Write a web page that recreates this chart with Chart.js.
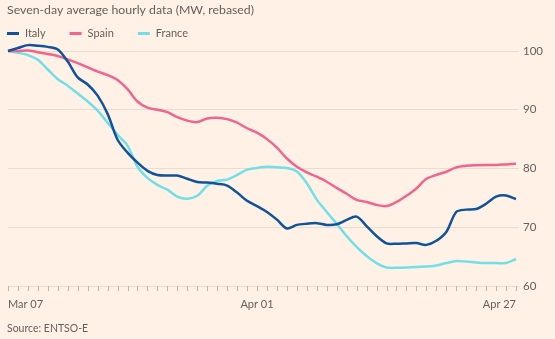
<!DOCTYPE html>
<html>
<head>
<meta charset="utf-8">
<script src="https://cdn.jsdelivr.net/npm/chart.js@4/dist/chart.umd.min.js"></script>
<style>
  html, body { margin: 0; padding: 0; background: #fff1e5; }
  #wrap { width: 555px; height: 339px; position: relative; }
</style>
</head>
<body>
<div id="wrap"><canvas id="chart" width="555" height="339"></canvas></div>
<script>
// Daily dates along the x axis
const dates = [
  'Mar 07','Mar 08','Mar 09','Mar 10','Mar 11','Mar 12','Mar 13','Mar 14','Mar 15','Mar 16',
  'Mar 17','Mar 18','Mar 19','Mar 20','Mar 21','Mar 22','Mar 23','Mar 24','Mar 25','Mar 26',
  'Mar 27','Mar 28','Mar 29','Mar 30','Mar 31','Apr 01','Apr 02','Apr 03','Apr 04','Apr 05',
  'Apr 06','Apr 07','Apr 08','Apr 09','Apr 10','Apr 11','Apr 12','Apr 13','Apr 14','Apr 15',
  'Apr 16','Apr 17','Apr 18','Apr 19','Apr 20','Apr 21','Apr 22','Apr 23','Apr 24','Apr 25',
  'Apr 26','Apr 27'
];
// Dates that get a label on the x axis
const labelledDates = ['Mar 07', 'Apr 01', 'Apr 27'];

// Seven-day average hourly demand, rebased to 100 on Mar 07
const italy = [
  100, 100.5, 101.0, 100.9, 100.7, 100.25, 98.2, 95.5, 94.3, 92.4,
  89.3, 84.9, 82.7, 81.0, 79.6, 78.9, 78.8, 78.8, 78.25, 77.7,
  77.6, 77.4, 77.1, 75.9, 74.5, 73.6, 72.6, 71.3, 69.8, 70.4,
  70.6, 70.7, 70.4, 70.5, 71.25, 71.8, 70.2, 68.5, 67.25, 67.2,
  67.25, 67.3, 67.0, 67.7, 69.2, 72.6, 73.0, 73.1, 74.0, 75.2,
  75.4, 74.8
];
const spain = [
  100, 100.0, 100.1, 99.8, 99.5, 99.15, 98.55, 97.95, 97.2, 96.5,
  95.9, 95.05, 93.5, 91.4, 90.35, 90.0, 89.6, 88.75, 88.15, 87.9,
  88.5, 88.65, 88.4, 87.8, 86.85, 86.1, 85.0, 83.55, 81.7, 80.3,
  79.35, 78.6, 77.75, 76.7, 75.7, 74.65, 74.3, 73.8, 73.6, 74.3,
  75.35, 76.6, 78.25, 78.9, 79.45, 80.2, 80.45, 80.55, 80.6, 80.6,
  80.7, 80.8
];
const france = [
  100, 99.7, 99.3, 98.5, 96.85, 95.2, 94.1, 92.75, 91.4, 89.85,
  87.8, 85.75, 83.9, 80.3, 78.4, 77.2, 76.4, 75.2, 74.85, 75.35,
  77.05, 77.9, 78.1, 78.9, 79.8, 80.1, 80.3, 80.2, 80.1, 79.5,
  77.5, 74.7, 72.6, 70.6, 68.5, 66.65, 65.1, 63.9, 63.15, 63.1,
  63.15, 63.25, 63.3, 63.5, 63.9, 64.25, 64.15, 64.0, 63.9, 63.9,
  63.9, 64.6
];

const seriesNames = ['Italy', 'Spain', 'France'];
const seriesColors = ['#0f5499', '#f0648e', '#72dfe8'];
const yMin = 60, yMax = 100, yStep = 10;

const titleText = 'Seven-day average hourly data (MW, rebased)';
const sourceText = 'Source: ENTSO-E';

const FONT = 'Lato, "Open Sans", sans-serif';
const TEXT_COLOR = '#66605c';
const TICK_COLOR = '#c0b4a9';

// Title, legend, source line and the small daily tick marks under the x axis
const headerFooter = {
  id: 'headerFooter',
  afterDraw(chart) {
    const ctx = chart.ctx;
    ctx.save();

    // daily tick marks
    const xs = chart.scales.x;
    const bottom = Math.round(chart.chartArea.bottom);
    ctx.fillStyle = TICK_COLOR;
    dates.forEach((d, i) => {
      const px = Math.round(xs.getPixelForTick(i));
      ctx.fillRect(px, bottom, 1, 5);
    });

    ctx.textBaseline = 'middle';
    ctx.textAlign = 'left';
    ctx.fillStyle = TEXT_COLOR;
    ctx.font = '12.3px ' + FONT;
    ctx.fillText(titleText, 7, 10);

    ctx.font = '11px ' + FONT;
    let x = 7;
    chart.data.datasets.forEach(ds => {
      ctx.fillStyle = ds.borderColor;
      ctx.fillRect(x, 32, 12, 3);
      ctx.fillStyle = TEXT_COLOR;
      ctx.fillText(ds.label, x + 18, 33.5);
      x += 18 + ctx.measureText(ds.label).width + 24;
    });

    ctx.font = '10.5px ' + FONT;
    ctx.fillText(sourceText, 7, 329);
    ctx.restore();
  }
};

const seriesData = [italy, spain, france];

new Chart(document.getElementById('chart'), {
  type: 'line',
  data: {
    labels: dates,
    datasets: seriesNames.map((name, i) => ({
      label: name,
      data: seriesData[i],
      borderColor: seriesColors[i],
      backgroundColor: seriesColors[i],
      borderWidth: 2.5,
      pointRadius: 0,
      tension: 0.3,
      clip: false
    }))
  },
  options: {
    responsive: false,
    animation: false,
    layout: { padding: { top: 51, left: 8, right: 0, bottom: 0 } },
    plugins: {
      legend: { display: false },
      title: { display: false },
      tooltip: { enabled: false }
    },
    scales: {
      x: {
        type: 'category',
        offset: false,
        border: { display: false },
        grid: { display: false, tickLength: 5 },
        ticks: {
          autoSkip: false,
          maxRotation: 0,
          align: 'inner',
          padding: 7,
          color: TEXT_COLOR,
          font: { family: FONT, size: 11 },
          callback: (v, i) => labelledDates.includes(dates[i]) ? dates[i] : ''
        },
        afterFit: s => { s.height = 53; }
      },
      y: {
        position: 'right',
        min: yMin,
        max: yMax,
        border: { display: false },
        grid: { color: '#eadcd0', tickLength: 3, drawTicks: true },
        ticks: {
          stepSize: yStep,
          padding: 4,
          color: TEXT_COLOR,
          font: { family: FONT, size: 11.5 }
        },
        afterFit: s => { s.width = 39; }
      }
    }
  },
  plugins: [headerFooter]
});
</script>
</body>
</html>
